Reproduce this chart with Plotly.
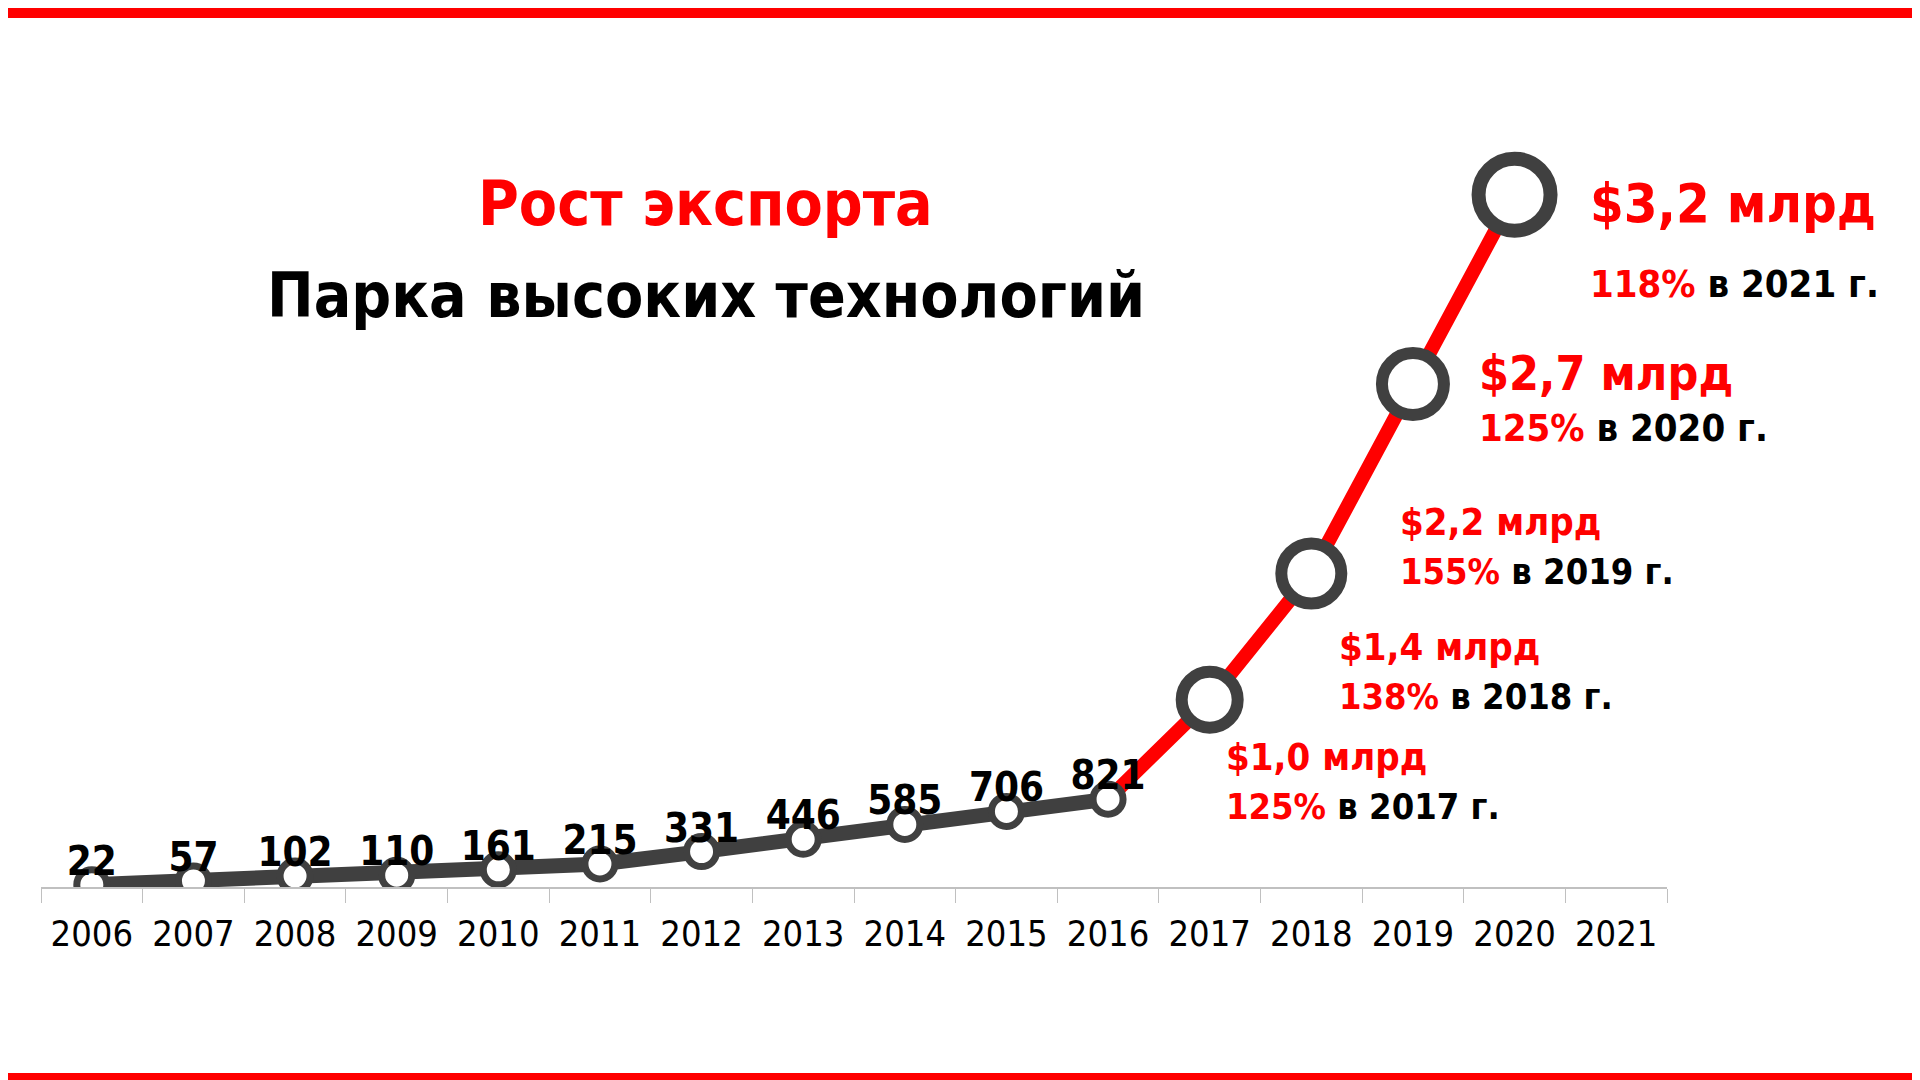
import plotly.graph_objects as go

years = [str(y) for y in range(2006, 2022)]
point_years = years[:15]
# visual positions of the points
values = [22, 57, 102, 110, 161, 215, 331, 446, 585, 706, 821, 1750, 2930, 4700, 6470]
small_labels = ["22", "57", "102", "110", "161", "215", "331", "446", "585", "706", "821"]
big_amounts = ["$1,0 млрд", "$1,4 млрд", "$2,2 млрд", "$2,7 млрд", "$3,2 млрд"]
big_pcts = ["125%", "138%", "155%", "125%", "118%"]
big_years = ["2017", "2018", "2019", "2020", "2021"]

RED = "#ff0000"
DARK = "#404040"
FONT = "DejaVu Sans Condensed, Liberation Sans Narrow, sans-serif"
S = 1920 / 1568

W, H = 1920, 1080
L, R, T, B = 33, 261, 100, 201
pw, ph = W - L - R, H - T - B

def paper(x, y):
    return ((x * S - L) / pw, 1 - (y * S - T) / ph)

fig = go.Figure()
fig.add_trace(go.Scatter(x=point_years[:11], y=values[:11], mode="lines",
                         line=dict(color=DARK, width=15), hoverinfo="skip"))
fig.add_trace(go.Scatter(x=point_years[10:], y=values[10:], mode="lines",
                         line=dict(color=RED, width=14), hoverinfo="skip"))
sizes = [30] * 11 + [56, 60, 62, 72]
widths = [7] * 11 + [12, 12, 12, 14]
fig.add_trace(go.Scatter(x=point_years, y=values, mode="markers",
                         marker=dict(size=sizes, color="white", opacity=1,
                                     line=dict(color=DARK, width=widths))))
fig.add_trace(go.Scatter(x=point_years[:11], y=values[:11], mode="text",
                         text=["<b>%s</b>" % t for t in small_labels],
                         textposition="top center", hoverinfo="skip",
                         textfont=dict(family=FONT, size=40, color="black")))

ann = []

def txt(x, y, text, size, anchor="left"):
    px, py = paper(x, y)
    ann.append(dict(x=px, y=py, xref="paper", yref="paper", text=text, showarrow=False,
                    xanchor=anchor, yanchor="middle", font=dict(family=FONT, size=size, color="black")))

txt(570, 160, "<b><span style='color:%s'>Рост экспорта</span></b>" % RED, 62, "center")
txt(570, 235, "<b>Парка высоких технологий</b>", 62, "center")

pos = [(993, 612, 652, 38, 36), (1085, 522, 562, 38, 36), (1135, 420, 460, 38, 36),
       (1200, 298, 343, 48, 38), (1290, 160, 225, 54, 38)]
for (x, y1, y2, s1, s2), a, p, yr in zip(pos, big_amounts, big_pcts, big_years):
    txt(x, y1, "<b><span style='color:%s'>%s</span></b>" % (RED, a), s1)
    txt(x, y2, "<b><span style='color:%s'>%s</span> в %s г.</b>" % (RED, p, yr), s2)

fig.update_layout(
    width=W, height=H, margin=dict(l=L, r=R, t=T, b=B),
    paper_bgcolor="white", plot_bgcolor="white", showlegend=False,
    annotations=ann,
    xaxis=dict(type="category", categoryorder="array", categoryarray=years,
               range=[-0.5, 15.5], showline=True, linecolor="#c0c0c0", linewidth=2,
               ticks="outside", tickson="boundaries", ticklen=14, tickcolor="#c0c0c0",
               showgrid=False, tickfont=dict(family=FONT, size=36, color="black"), ticklabelstandoff=14),
    yaxis=dict(range=[0, 7280], visible=False, showgrid=False, zeroline=False),
    shapes=[dict(type="rect", xref="paper", yref="paper", x0=-L/pw, x1=1+R/pw,
                 y0=1+T/ph - 10/ph, y1=1+T/ph, fillcolor=RED, line_width=0),
            dict(type="rect", xref="paper", yref="paper", x0=-L/pw, x1=1+R/pw,
                 y0=-B/ph, y1=-B/ph + 15/ph, fillcolor=RED, line_width=0)],
)
fig.write_html("out.html")
